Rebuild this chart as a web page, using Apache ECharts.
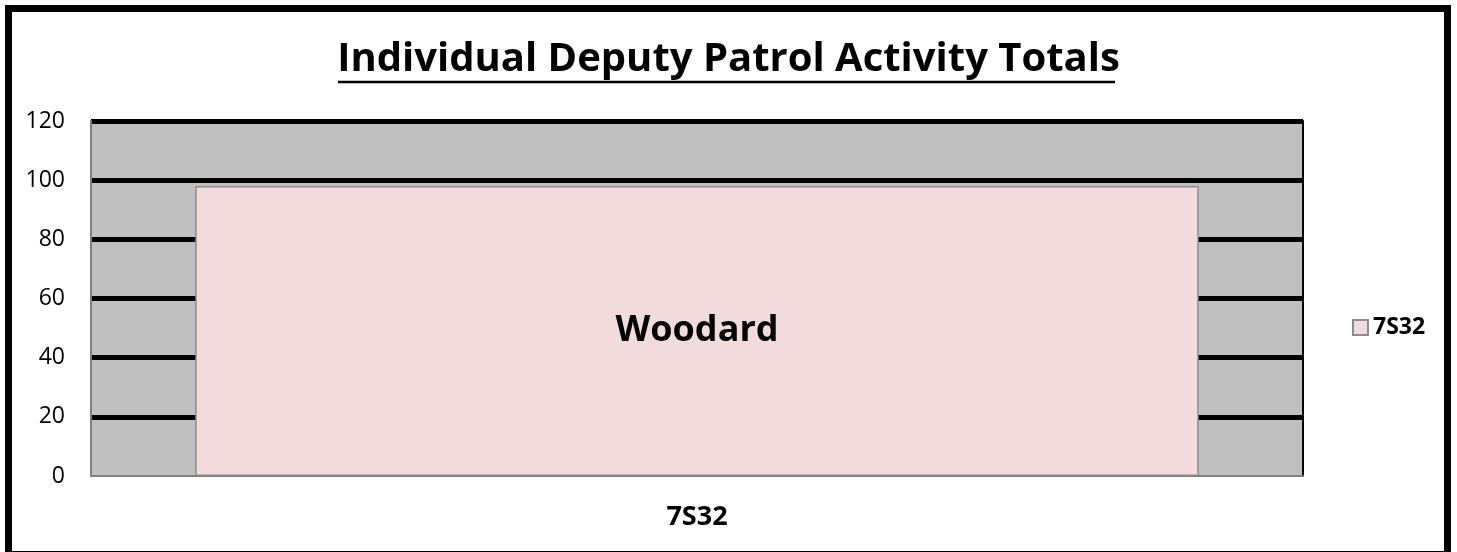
<!DOCTYPE html>
<html>
<head>
<meta charset="utf-8">
<script src="https://cdn.jsdelivr.net/npm/echarts@6/dist/echarts.min.js"></script>
<style>
  html, body { margin: 0; padding: 0; background: #fff; }
  #main { width: 1457px; height: 552px; }
</style>
</head>
<body>
<div id="main"></div>
<script>
const categories = ["7S32"];
const seriesName = "7S32";
const values = [98];
const barLabels = ["Woodard"];
const yTicks = [0, 20, 40, 60, 80, 100, 120];

const chart = echarts.init(document.getElementById("main"));
const font = "'Open Sans', 'Liberation Sans', sans-serif";

const option = {
  backgroundColor: "#fff",
  animation: false,
  title: {
    text: "Individual Deputy Patrol Activity Totals",
    left: "center",
    top: 35,
    textStyle: { fontFamily: font, fontWeight: "bold", fontSize: 40, color: "#000" }
  },
  graphic: [
    // outer frame
    { type: "rect", shape: { x: 8.5, y: 8.5, width: 1439, height: 546 },
      style: { fill: null, stroke: "#000", lineWidth: 7 }, z: 100 },
    // title underline
    { type: "line", shape: { x1: 338, y1: 82, x2: 1115, y2: 82 },
      style: { stroke: "#000", lineWidth: 2.5 } }
  ],
  legend: {
    data: [seriesName],
    left: 1347,
    top: 311,
    icon: "rect",
    itemWidth: 15,
    itemHeight: 15,
    itemGap: 6,
    textStyle: { fontFamily: font, fontWeight: "bold", fontSize: 23, color: "#000" }
  },
  grid: {
    left: 91, right: 154, top: 121, bottom: 76,
    show: true, backgroundColor: "#C0C0C0", borderWidth: 0
  },
  xAxis: {
    type: "category",
    data: categories,
    axisLine: { lineStyle: { color: "#808080", width: 2 } },
    axisTick: { show: false },
    axisLabel: { margin: 28, fontFamily: font, fontWeight: "bold", fontSize: 27, color: "#000" }
  },
  yAxis: [
    {
      type: "value",
      min: yTicks[0],
      max: yTicks[yTicks.length - 1],
      interval: 20,
      axisLine: { show: true, lineStyle: { color: "#808080", width: 2 } },
      axisTick: { show: false },
      axisLabel: { margin: 26, fontFamily: font, fontSize: 23, color: "#000" },
      splitLine: { show: true, showMinLine: false, lineStyle: { color: "#000", width: 5 } }
    },
    {
      type: "value",
      position: "right",
      min: yTicks[0],
      max: yTicks[yTicks.length - 1],
      interval: 20,
      axisLine: { show: true, lineStyle: { color: "#000", width: 2 } },
      axisTick: { show: false },
      axisLabel: { show: false },
      splitLine: { show: false }
    }
  ],
  series: [
    {
      name: seriesName,
      type: "bar",
      data: values,
      barWidth: "82.8%",
      itemStyle: { color: "#F2DCDB", borderColor: "#8C8C8C", borderWidth: 1.5 },
      label: {
        show: true,
        position: "inside",
        formatter: (p) => barLabels[p.dataIndex],
        fontFamily: font,
        fontWeight: "bold",
        fontSize: 36,
        color: "#000"
      }
    }
  ]
};

chart.setOption(option);
</script>
</body>
</html>
